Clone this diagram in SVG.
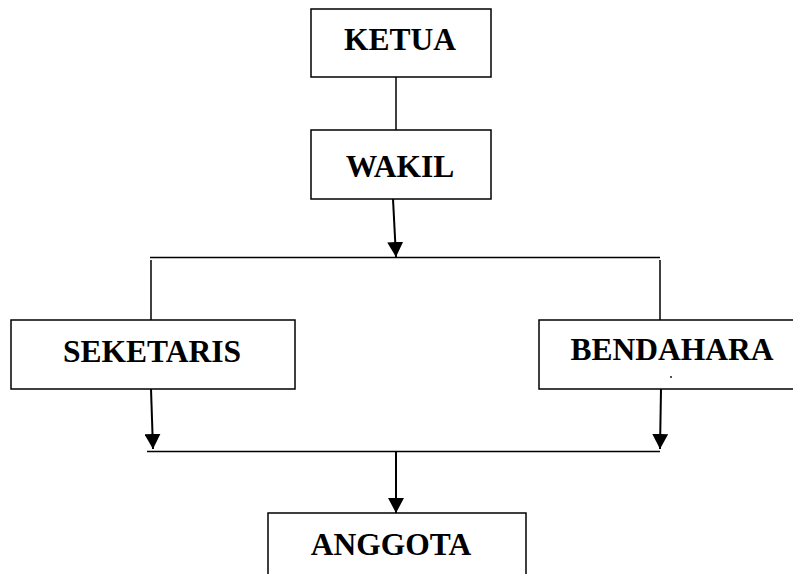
<svg xmlns="http://www.w3.org/2000/svg" width="793" height="574" viewBox="0 0 793 574">
<style>
.box{fill:#fff;stroke:#000;stroke-width:1.5}
.lbl{font-family:"Liberation Serif","Times New Roman",serif;font-weight:bold;font-size:31.5px;text-anchor:middle;fill:#000}
.ln{stroke:#000;stroke-width:1.5;fill:none}
.ar{stroke:#000;stroke-width:2;fill:none}
</style>
<defs>
<marker id="ah" markerUnits="userSpaceOnUse" markerWidth="16" markerHeight="16" refX="15" refY="8" orient="auto">
<path d="M0,0 L15,8 L0,16 Z" fill="#000"/>
</marker>
</defs>
<g id="connectors">
<line class="ln" x1="396" y1="71" x2="396" y2="130"/>
<line class="ar" x1="393" y1="199" x2="396" y2="257" marker-end="url(#ah)"/>
<line class="ln" x1="150" y1="257.5" x2="660" y2="257.5"/>
<line class="ln" x1="151" y1="260" x2="151" y2="320"/>
<line class="ln" x1="660" y1="260" x2="660" y2="320"/>
<line class="ar" x1="151" y1="389" x2="153" y2="449" marker-end="url(#ah)"/>
<line class="ar" x1="661" y1="389" x2="660" y2="449" marker-end="url(#ah)"/>
<line class="ln" x1="147" y1="451.5" x2="660" y2="451.5"/>
<line class="ar" x1="396" y1="452" x2="396" y2="513" marker-end="url(#ah)"/>
</g>
<g id="ketua">
<rect class="box" x="311" y="9" width="180" height="68"/>
<text class="lbl" x="400" y="50">KETUA</text>
</g>
<g id="wakil">
<rect class="box" x="311" y="130" width="180" height="69"/>
<text class="lbl" x="400" y="177">WAKIL</text>
</g>
<g id="seketaris">
<rect class="box" x="11" y="320" width="284" height="69"/>
<text class="lbl" x="152" y="362">SEKETARIS</text>
</g>
<g id="bendahara">
<rect class="box" x="539" y="320" width="260" height="69"/>
<text class="lbl" x="672" y="360">BENDAHARA</text>
<circle cx="671" cy="377" r="0.9" fill="#000"/>
</g>
<g id="anggota">
<rect class="box" x="268" y="513" width="258" height="70"/>
<text class="lbl" x="391" y="555">ANGGOTA</text>
</g>
</svg>
